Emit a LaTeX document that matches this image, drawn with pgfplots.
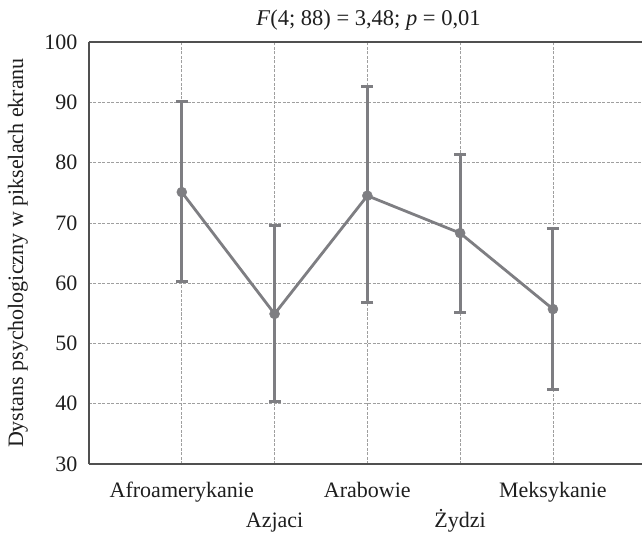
\documentclass[border=0pt]{standalone}
\usepackage{pgfplots}
\pgfplotsset{compat=1.18}
\usepackage{pgfplotstable}
\usepackage{fontspec}
\setmainfont{Liberation Serif}
\definecolor{serie}{RGB}{126,126,130}
\definecolor{spine}{RGB}{80,80,80}
\definecolor{txt}{RGB}{30,30,30}
\pgfplotstableread{
x y ep em
0 75.1 15.1 14.9
1 54.9 14.7 14.6
2 74.5 18.2 17.7
3 68.3 13.1 13.1
4 55.7 13.3 13.4
}\datatab
\begin{document}
\fontsize{22bp}{26bp}\selectfont
\begin{tikzpicture}
\useasboundingbox (-89bp,-70bp) rectangle (553bp,464bp);
\begin{axis}[
  at={(0,0)}, anchor=south west,
  scale only axis,
  width=553bp, height=422bp,
  xmin=-1, xmax=4.96,
  ymin=30, ymax=100,
  ytick={30,40,...,100},
  xtick={0,1,2,3,4},
  xticklabels={Afroamerykanie,\raisebox{-30bp}{Azjaci},Arabowie,\raisebox{-30bp}{Żydzi},Meksykanie},
  major tick length=0pt,
  axis lines*=left,
  axis line style={-, draw=spine, line width=1.4bp},
  grid=major,
  major grid style={dash pattern=on 3bp off 1.5bp, gray!75, line width=0.6bp},
  tick label style={font=\fontsize{22bp}{26bp}\selectfont, text=txt},
  /pgf/number format/assume math mode=true,
  yticklabel style={xshift=-4bp},
  xticklabel style={anchor=base, yshift=-33bp},
  title={\textit{F}(4; 88) = 3,48; \textit{p} = 0,01},
  title style={at={(axis description cs:0.5,1)}, anchor=center, yshift=16bp, xshift=3bp, font=\fontsize{22.5bp}{26bp}\selectfont, text=txt},
  ylabel={Dystans psychologiczny w pikselach ekranu},
  every axis y label/.style={at={(axis description cs:-0.1284,0.5)}, rotate=90, anchor=center, font=\fontsize{22bp}{26bp}\selectfont, text=txt},
  clip=false,
]
\draw[spine, line width=1.4bp] (rel axis cs:0,1) -- (rel axis cs:1,1);
\addplot[serie, line width=2.8bp, mark=*, mark size=5bp, mark options={fill=serie, draw=serie, line width=0.5bp},
  error bars/.cd, y dir=both, y explicit,
  error bar style={line width=3bp, serie},
  error mark options={rotate=90, mark size=6bp, line width=3bp, serie}]
  table[x=x, y=y, y error plus=ep, y error minus=em] {\datatab};
\end{axis}
\end{tikzpicture}
\end{document}
